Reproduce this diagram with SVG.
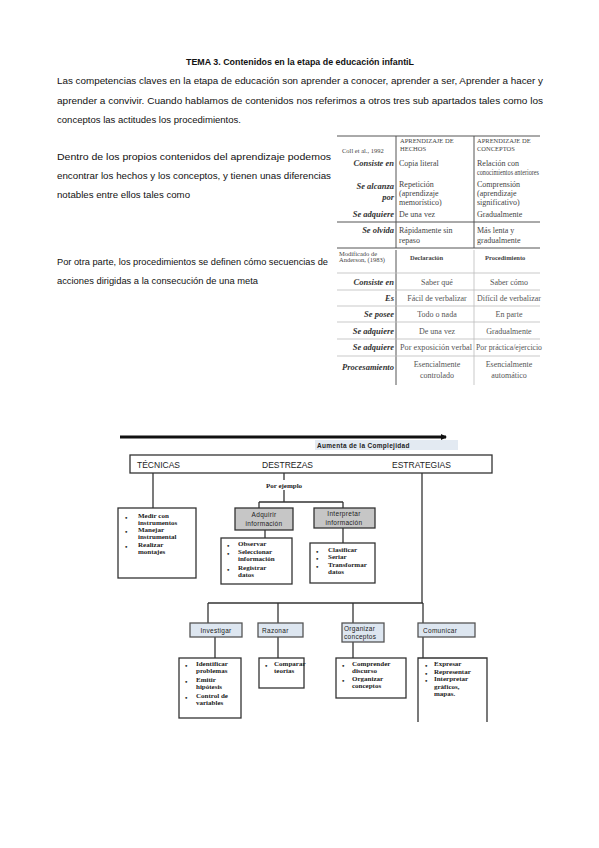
<svg xmlns="http://www.w3.org/2000/svg" width="599" height="848" viewBox="0 0 599 848">
<style>
.body{font-family:"Liberation Sans","Open Sans",sans-serif;font-size:9.5px;fill:#111}
.title{font-family:"Liberation Sans",sans-serif;font-size:8.5px;font-weight:bold;fill:#111}
.tb{font-family:"Liberation Serif",serif;font-size:8px;fill:#444}
.tbh{font-family:"Liberation Serif",serif;font-size:6.5px;fill:#444}
.tbl{font-family:"Liberation Serif",serif;font-size:8.5px;font-weight:bold;font-style:italic;fill:#333;text-anchor:end}
.tbc{font-family:"Liberation Serif",serif;font-size:8px;fill:#555;text-anchor:middle}
.tline{stroke:#555;stroke-width:1;fill:none}
.tline2{stroke:#bbb;stroke-width:0.8;fill:none}
.cat{font-family:"Liberation Sans",sans-serif;font-size:8.5px;fill:#222}
.lab{font-family:"Liberation Sans",sans-serif;font-size:6.5px;fill:#222;letter-spacing:0.3px}
.it{font-family:"Liberation Serif",serif;font-size:7px;font-weight:bold;fill:#222}
.con{stroke:#333;stroke-width:1.3;fill:none}
.box{fill:#fff;stroke:#333;stroke-width:1.3}
.gbox{fill:#c6c6c6;stroke:#333;stroke-width:1.3}
.bbox{fill:#dde6f0;stroke:#555;stroke-width:1.3}
</style>
<defs>
<marker id="ah" markerWidth="6" markerHeight="6" refX="5" refY="3" orient="auto" markerUnits="userSpaceOnUse">
<path d="M0,0 L6,3 L0,6 Z" fill="#111"/>
</marker>
</defs>
<rect width="599" height="848" fill="#fff"/>

<!-- Top text -->
<text class="title" x="186" y="65" textLength="228" lengthAdjust="spacingAndGlyphs">TEMA 3. Contenidos en la etapa de educación infantiL</text>
<text class="body" x="57" y="84" textLength="486" lengthAdjust="spacingAndGlyphs">Las competencias claves en la etapa de educación son aprender a conocer, aprender a ser, Aprender a hacer y</text>
<text class="body" x="57" y="104" textLength="486" lengthAdjust="spacingAndGlyphs">aprender a convivir. Cuando hablamos de contenidos nos referimos a otros tres sub apartados tales como los</text>
<text class="body" x="57" y="123" textLength="184" lengthAdjust="spacingAndGlyphs">conceptos las actitudes los procedimientos.</text>

<text class="body" x="57" y="160" textLength="274" lengthAdjust="spacingAndGlyphs">Dentro de los propios contenidos del aprendizaje podemos</text>
<text class="body" x="57" y="179" textLength="274" lengthAdjust="spacingAndGlyphs">encontrar los hechos y los conceptos, y tienen unas diferencias</text>
<text class="body" x="57" y="198" textLength="133" lengthAdjust="spacingAndGlyphs">notables entre ellos tales como</text>
<text class="body" x="57" y="265" textLength="271" lengthAdjust="spacingAndGlyphs">Por otra parte, los procedimientos se definen cómo secuencias de</text>
<text class="body" x="57" y="284" textLength="201" lengthAdjust="spacingAndGlyphs">acciones dirigidas a la consecución de una meta</text>

<!-- Table 1 -->
<g id="table1">
<line class="tline" x1="337" y1="136" x2="540" y2="136"/>
<line class="tline" x1="396" y1="136" x2="396" y2="248"/>
<line class="tline" x1="474" y1="136" x2="474" y2="248"/>
<line class="tline" x1="337" y1="222" x2="540" y2="222"/>
<line class="tline" x1="337" y1="248" x2="540" y2="248"/>
<text class="tbh" x="342" y="153">Coll et al., 1992</text>
<text class="tbh" x="400" y="143">APRENDIZAJE DE</text>
<text class="tbh" x="400" y="151">HECHOS</text>
<text class="tbh" x="477" y="143">APRENDIZAJE DE</text>
<text class="tbh" x="477" y="151">CONCEPTOS</text>
<text class="tbl" x="394" y="166">Consiste en</text>
<text class="tb" x="399" y="166">Copia literal</text>
<text class="tb" x="477" y="166">Relación con</text>
<text class="tb" x="477" y="175" textLength="62" lengthAdjust="spacingAndGlyphs">conocimientos anteriores</text>
<text class="tbl" x="394" y="189">Se alcanza</text>
<text class="tbl" x="394" y="200">por</text>
<text class="tb" x="399" y="187">Repetición</text>
<text class="tb" x="399" y="196">(aprendizaje</text>
<text class="tb" x="399" y="205">memorístico)</text>
<text class="tb" x="477" y="187">Comprensión</text>
<text class="tb" x="477" y="196">(aprendizaje</text>
<text class="tb" x="477" y="205">significativo)</text>
<text class="tbl" x="394" y="217">Se adquiere</text>
<text class="tb" x="399" y="217">De una vez</text>
<text class="tb" x="477" y="217">Gradualmente</text>
<text class="tbl" x="394" y="233">Se olvida</text>
<text class="tb" x="399" y="233">Rápidamente sin</text>
<text class="tb" x="399" y="243">repaso</text>
<text class="tb" x="477" y="233">Más lenta y</text>
<text class="tb" x="477" y="243">gradualmente</text>
</g>

<!-- Table 2 -->
<g id="table2">
<line class="tline" x1="396" y1="250" x2="396" y2="385"/>
<line class="tline2" x1="474" y1="250" x2="474" y2="385"/>
<line class="tline2" x1="337" y1="273" x2="540" y2="273"/>
<line class="tline2" x1="337" y1="290" x2="540" y2="290"/>
<line class="tline2" x1="337" y1="306" x2="540" y2="306"/>
<line class="tline2" x1="337" y1="322" x2="540" y2="322"/>
<line class="tline2" x1="337" y1="339" x2="540" y2="339"/>
<line class="tline2" x1="337" y1="356" x2="540" y2="356"/>
<text class="tbh" x="339" y="256" font-size="4.5">Modificado de</text>
<text class="tbh" x="339" y="262" font-size="4.5">Anderson, (1983)</text>
<text class="tbh" x="410" y="260" font-weight="bold">Declaración</text>
<text class="tbh" x="485" y="260" font-weight="bold">Procedimiento</text>
<text class="tbl" x="394" y="285">Consiste en</text>
<text class="tbc" x="437" y="285">Saber qué</text>
<text class="tbc" x="509" y="285">Saber cómo</text>
<text class="tbl" x="394" y="301">Es</text>
<text class="tbc" x="437" y="301">Fácil de verbalizar</text>
<text class="tbc" x="509" y="301" textLength="64" lengthAdjust="spacingAndGlyphs">Difícil de verbalizar</text>
<text class="tbl" x="394" y="317">Se posee</text>
<text class="tbc" x="437" y="317">Todo o nada</text>
<text class="tbc" x="509" y="317">En parte</text>
<text class="tbl" x="394" y="334">Se adquiere</text>
<text class="tbc" x="437" y="334">De una vez</text>
<text class="tbc" x="509" y="334">Gradualmente</text>
<text class="tbl" x="394" y="350">Se adquiere</text>
<text class="tbc" x="436" y="350" textLength="72" lengthAdjust="spacingAndGlyphs">Por exposición verbal</text>
<text class="tbc" x="509" y="350" textLength="66" lengthAdjust="spacingAndGlyphs">Por práctica/ejercicio</text>
<text class="tbl" x="394" y="370" font-size="8">Procesamiento</text>
<text class="tbc" x="437" y="367">Esencialmente</text>
<text class="tbc" x="437" y="378">controlado</text>
<text class="tbc" x="509" y="367">Esencialmente</text>
<text class="tbc" x="509" y="378">automático</text>
</g>

<!-- Connectors -->
<g id="connectors">
<line x1="120" y1="437" x2="446" y2="437" stroke="#111" stroke-width="3" marker-end="url(#ah)"/>
<line class="con" x1="153" y1="473" x2="153" y2="508"/>
<line class="con" x1="284" y1="473" x2="284" y2="480"/>
<line class="con" x1="284" y1="490" x2="284" y2="502"/>
<line class="con" x1="259" y1="502" x2="343" y2="502"/>
<line class="con" x1="259" y1="502" x2="259" y2="508"/>
<line class="con" x1="343" y1="502" x2="343" y2="508"/>
<line class="con" x1="265" y1="530" x2="265" y2="538"/>
<line class="con" x1="343" y1="528" x2="343" y2="543"/>
<line class="con" x1="422" y1="473" x2="422" y2="603"/>
<line class="con" x1="208" y1="603" x2="423" y2="603"/>
<line class="con" x1="208" y1="603" x2="208" y2="623"/>
<line class="con" x1="278" y1="603" x2="278" y2="623"/>
<line class="con" x1="353" y1="603" x2="353" y2="623"/>
<line class="con" x1="423" y1="603" x2="423" y2="623"/>
<line class="con" x1="215" y1="637" x2="215" y2="658"/>
<line class="con" x1="278" y1="637" x2="278" y2="658"/>
<line class="con" x1="353" y1="642" x2="353" y2="658"/>
<line class="con" x1="423" y1="637" x2="423" y2="658"/>
</g>

<!-- Nodes -->
<g id="complejidad">
<rect x="315" y="440" width="143" height="10" fill="#e3eaf2"/>
<text class="lab" x="317" y="447.5" font-weight="bold" font-size="6" letter-spacing="0">Aumenta de la Complejidad</text>
</g>

<g id="categorias">
<rect class="box" x="130" y="455" width="362" height="18"/>
<text class="cat" x="137" y="468">TÉCNICAS</text>
<text class="cat" x="262" y="468">DESTREZAS</text>
<text class="cat" x="392" y="468">ESTRATEGIAS</text>
</g>

<g id="por-ejemplo">
<text class="it" x="284" y="488" text-anchor="middle" font-size="6.5">Por ejemplo</text>
</g>

<g id="tecnicas-lista">
<rect class="box" x="118" y="508" width="78" height="70"/>
<text class="it" x="125" y="520">•</text>
<text class="it" x="138" y="518">Medir con</text>
<text class="it" x="138" y="525">instrumentos</text>
<text class="it" x="125" y="534">•</text>
<text class="it" x="138" y="532">Manejar</text>
<text class="it" x="138" y="539">instrumental</text>
<text class="it" x="125" y="549">•</text>
<text class="it" x="138" y="547">Realizar</text>
<text class="it" x="138" y="554">montajes</text>
</g>

<g id="adquirir">
<rect class="gbox" x="235" y="508" width="58" height="22"/>
<text class="lab" x="264" y="517" text-anchor="middle">Adquirir</text>
<text class="lab" x="264" y="526" text-anchor="middle">información</text>
</g>

<g id="interpretar">
<rect class="gbox" x="314" y="508" width="61" height="20"/>
<text class="lab" x="344" y="516" text-anchor="middle">Interpretar</text>
<text class="lab" x="344" y="525" text-anchor="middle">información</text>
</g>

<g id="adquirir-lista">
<rect class="box" x="221" y="538" width="71" height="46"/>
<text class="it" x="227" y="548">•</text>
<text class="it" x="238" y="546">Observar</text>
<text class="it" x="227" y="556">•</text>
<text class="it" x="238" y="554">Seleccionar</text>
<text class="it" x="238" y="561">información</text>
<text class="it" x="227" y="572">•</text>
<text class="it" x="238" y="570">Registrar</text>
<text class="it" x="238" y="577">datos</text>
</g>

<g id="interpretar-lista">
<rect class="box" x="310" y="543" width="65" height="40"/>
<text class="it" x="316" y="554">•</text>
<text class="it" x="328" y="552">Clasificar</text>
<text class="it" x="316" y="561">•</text>
<text class="it" x="328" y="559">Seriar</text>
<text class="it" x="316" y="569">•</text>
<text class="it" x="328" y="567">Transformar</text>
<text class="it" x="328" y="574">datos</text>
</g>

<g id="investigar">
<rect class="bbox" x="190" y="623" width="52" height="14"/>
<text class="lab" x="216" y="632.5" text-anchor="middle">Investigar</text>
</g>
<g id="razonar">
<rect class="bbox" x="258" y="623" width="45" height="14"/>
<text class="lab" x="262" y="632.5">Razonar</text>
</g>
<g id="organizar">
<rect class="bbox" x="342" y="623" width="42" height="19" stroke="#aaa"/>
<text class="lab" x="344" y="631">Organizar</text>
<text class="lab" x="344" y="639">conceptos</text>
</g>
<g id="comunicar">
<rect class="bbox" x="418" y="623" width="57" height="14"/>
<text class="lab" x="423" y="632.5">Comunicar</text>
</g>

<g id="investigar-lista">
<rect class="box" x="179" y="658" width="62" height="60"/>
<text class="it" x="185" y="668">•</text>
<text class="it" x="196" y="666">Identificar</text>
<text class="it" x="196" y="673">problemas</text>
<text class="it" x="185" y="684">•</text>
<text class="it" x="196" y="682" font-weight="normal">Emitir</text>
<text class="it" x="196" y="689">hipótesis</text>
<text class="it" x="185" y="700">•</text>
<text class="it" x="196" y="698">Control de</text>
<text class="it" x="196" y="705">variables</text>
</g>
<g id="razonar-lista">
<rect class="box" x="259" y="658" width="45" height="30"/>
<text class="it" x="265" y="668">•</text>
<text class="it" x="274" y="666">Comparar</text>
<text class="it" x="274" y="673">teorías</text>
</g>
<g id="organizar-lista">
<rect class="box" x="336" y="658" width="70" height="40"/>
<text class="it" x="342" y="668">•</text>
<text class="it" x="352" y="666">Comprender</text>
<text class="it" x="352" y="673">discurso</text>
<text class="it" x="342" y="683">•</text>
<text class="it" x="352" y="681">Organizar</text>
<text class="it" x="352" y="688">conceptos</text>
</g>
<g id="comunicar-lista">
<path class="con" d="M418,722 V658 H487 V722" stroke-width="1.3"/>
<text class="it" x="425" y="668">•</text>
<text class="it" x="434" y="666">Expresar</text>
<text class="it" x="425" y="676">•</text>
<text class="it" x="434" y="674">Representar</text>
<text class="it" x="425" y="683">•</text>
<text class="it" x="434" y="681">Interpretar</text>
<text class="it" x="434" y="689">gráficos,</text>
<text class="it" x="434" y="696">mapas.</text>
</g>
</svg>
